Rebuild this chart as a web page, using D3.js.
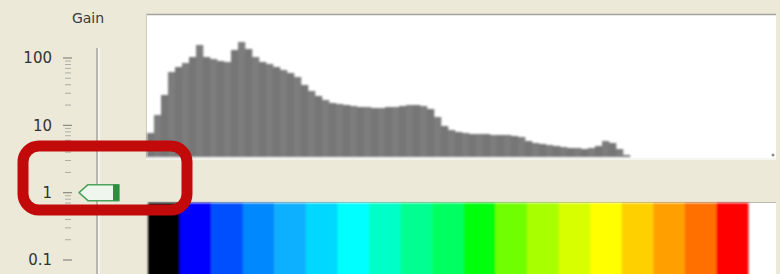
<!DOCTYPE html>
<html>
<head>
<meta charset="utf-8">
<script src="https://cdn.jsdelivr.net/npm/d3@7"></script>
<style>
  html, body { margin: 0; padding: 0; background: #ece9d8; }
  svg { display: block; }
</style>
</head>
<body>
<div id="chart"></div>
<script>
// histogram bin heights (relative counts)
const binCounts = [
  24, 42, 62, 85, 90, 94, 100, 112, 100, 98, 96, 95, 107, 115, 108, 100, 95, 93,
  90, 87, 84, 80, 72, 66, 61, 57, 54, 53, 52, 51, 50, 50, 49, 49, 50, 50, 51, 52,
  52, 51, 48, 40, 31, 27, 25, 24, 23, 23, 23, 22, 22, 22, 21, 20, 16, 14, 13, 12,
  11, 10, 9, 9, 8, 9, 11, 16, 14, 8, 2
];

// gain slider
const gainTicks = [100, 10, 1, 0.1];
const gainValue = 1;

// colour palette strip
const paletteColors = [
  '#000000', '#0000ff', '#0050ff', '#0088ff', '#10b0ff', '#00d8ff', '#00ffff',
  '#00ffc8', '#00ff90', '#00ff60', '#00ff10', '#70ff00', '#a8ff00', '#d8ff00',
  '#ffff00', '#ffd000', '#ffa000', '#ff7000', '#ff0000'
];

const W = 780, H = 274;
const svg = d3.select('#chart').append('svg')
  .attr('width', W).attr('height', H);

// soft blur, the source picture is a scaled screenshot
svg.append('defs').append('filter').attr('id', 'soft')
  .attr('x', '-2%').attr('y', '-2%').attr('width', '104%').attr('height', '104%')
  .append('feGaussianBlur').attr('stdDeviation', 0.8);

svg.append('rect').attr('width', W).attr('height', H).attr('fill', '#ece9d8');

// ---------- histogram panel ----------
const hist = { left: 146, right: 776, top: 14, bottom: 158 };

svg.append('rect')
  .attr('x', hist.left).attr('y', hist.top)
  .attr('width', hist.right - hist.left).attr('height', hist.bottom - hist.top)
  .attr('fill', '#ffffff');
svg.append('line')
  .attr('x1', hist.left).attr('x2', hist.right)
  .attr('y1', hist.top + 0.5).attr('y2', hist.top + 0.5)
  .attr('stroke', '#a4a29a').attr('stroke-width', 1.5);
svg.append('line')
  .attr('x1', hist.left + 0.5).attr('x2', hist.left + 0.5)
  .attr('y1', hist.top).attr('y2', hist.bottom)
  .attr('stroke', '#cfcdc4');
svg.append('line')
  .attr('x1', hist.left).attr('x2', hist.right)
  .attr('y1', hist.bottom + 1).attr('y2', hist.bottom + 1)
  .attr('stroke', '#f6f5ee').attr('stroke-width', 2);

const xBin = d3.scaleBand()
  .domain(d3.range(binCounts.length))
  .range([147, 147 + binCounts.length * 7]);
const yCount = d3.scaleLinear().domain([0, 143]).range([hist.bottom - 1, hist.top]);

const histG = svg.append('g').attr('filter', 'url(#soft)');
histG.selectAll('rect')
  .data(binCounts).join('rect')
  .attr('x', (d, i) => xBin(i))
  .attr('y', d => yCount(d))
  .attr('width', xBin.bandwidth() + 0.3)
  .attr('height', d => yCount(0) - yCount(d))
  .attr('fill', (d, i) => i % 2 ? '#7d7d7d' : '#767676');

// little grip dot at the corner
svg.append('circle').attr('cx', 773).attr('cy', 155).attr('r', 1.5).attr('fill', '#8a8a8a');

// ---------- colour strip ----------
const strip = { left: 148, right: 748, top: 203, bottom: 274 };
svg.append('rect')
  .attr('x', strip.left).attr('y', strip.top)
  .attr('width', 776 - strip.left).attr('height', strip.bottom - strip.top)
  .attr('fill', '#ffffff');
svg.append('line')
  .attr('x1', strip.left).attr('x2', 776)
  .attr('y1', strip.top - 0.5).attr('y2', strip.top - 0.5)
  .attr('stroke', '#b8b6ae');

const xColor = d3.scaleBand()
  .domain(d3.range(paletteColors.length))
  .range([strip.left, strip.right]);

svg.append('g').attr('filter', 'url(#soft)')
  .selectAll('rect')
  .data(paletteColors).join('rect')
  .attr('x', (d, i) => xColor(i))
  .attr('y', strip.top)
  .attr('width', xColor.bandwidth() + 0.5)
  .attr('height', strip.bottom - strip.top + 4)
  .attr('fill', d => d);

// ---------- gain slider ----------
const yGain = d3.scaleLog().domain([0.1, 100]).range([260, 58]);
const labelFont = 'DejaVu Sans, Verdana, sans-serif';

svg.append('text')
  .attr('x', 88).attr('y', 23)
  .attr('text-anchor', 'middle')
  .attr('font-family', labelFont).attr('font-size', 14)
  .attr('fill', '#3a3a3a').text('Gain');

// track
svg.append('line')
  .attr('x1', 97).attr('x2', 97).attr('y1', 48).attr('y2', H)
  .attr('stroke', '#b9b7ad').attr('stroke-width', 2);
svg.append('line')
  .attr('x1', 99).attr('x2', 99).attr('y1', 48).attr('y2', H)
  .attr('stroke', '#faf9f4').attr('stroke-width', 1.5);

// ticks: majors at decades, minors from log scale
const minorTicks = yGain.ticks().filter(t => !gainTicks.includes(t));
svg.append('g').selectAll('line.minor')
  .data(minorTicks).join('line')
  .attr('x1', 65).attr('x2', 71)
  .attr('y1', d => yGain(d)).attr('y2', d => yGain(d))
  .attr('stroke', '#aeada3').attr('stroke-width', 1);
svg.append('g').selectAll('line.major')
  .data(gainTicks).join('line')
  .attr('x1', 63).attr('x2', 72)
  .attr('y1', d => yGain(d)).attr('y2', d => yGain(d))
  .attr('stroke', '#8a897f').attr('stroke-width', 1.2);
svg.append('g').selectAll('text')
  .data(gainTicks).join('text')
  .attr('x', 52).attr('y', d => yGain(d))
  .attr('dy', '0.35em')
  .attr('text-anchor', 'end')
  .attr('font-family', labelFont).attr('font-size', 15)
  .attr('fill', '#333')
  .text(d => d3.format('~g')(d));

// thumb
const ty = yGain(gainValue);
const thumb = svg.append('g').attr('transform', `translate(0,${ty})`);
thumb.append('path')
  .attr('d', 'M79,0 L88,-8 L119,-8 L119,8 L88,8 Z')
  .attr('fill', '#eef6ee').attr('stroke', '#4aa35a').attr('stroke-width', 1.5)
  .attr('stroke-linejoin', 'round');
thumb.append('rect')
  .attr('x', 113).attr('y', -8).attr('width', 6).attr('height', 16)
  .attr('fill', '#2f8d40');

// ---------- red annotation box ----------
svg.append('rect')
  .attr('x', 23).attr('y', 146)
  .attr('width', 164).attr('height', 64)
  .attr('rx', 16).attr('ry', 16)
  .attr('fill', 'none')
  .attr('stroke', '#c20a0a').attr('stroke-width', 11);
</script>
</body>
</html>
